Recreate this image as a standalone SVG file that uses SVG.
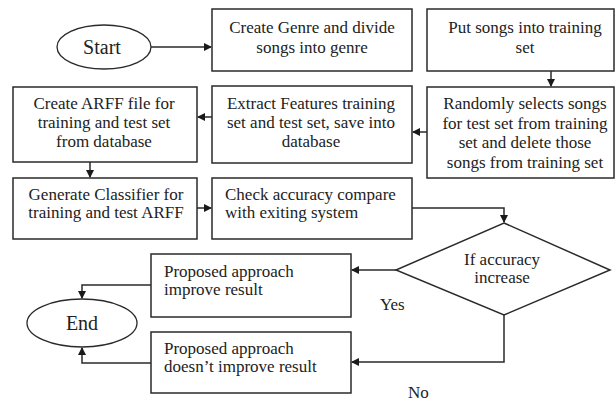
<svg xmlns="http://www.w3.org/2000/svg" width="616" height="403" viewBox="0 0 616 403">
  <style>
    .box { fill: #ffffff; stroke: #2a2a2a; stroke-width: 1.5; }
    .term { fill: #ffffff; stroke: #2a2a2a; stroke-width: 1.3; }
    .lbl { font-family: "Liberation Serif", "Times New Roman", serif; font-size: 17px; fill: #222222; }
    .mid { text-anchor: middle; }
    .big { font-size: 20px; }
    .wire { fill: none; stroke: #2a2a2a; stroke-width: 1.5; }
  </style>
  <defs>
    <marker id="arrow" markerWidth="8" markerHeight="8" refX="7" refY="4" orient="auto" markerUnits="userSpaceOnUse">
      <path d="M0,0 L8,4 L0,8 Z" fill="#1a1a1a"/>
    </marker>
  </defs>
  <rect width="616" height="403" fill="#ffffff"/>

  <!-- connectors -->
  <g id="connectors">
    <line class="wire" x1="151" y1="47" x2="211" y2="47" marker-end="url(#arrow)"/>
    <line class="wire" x1="551" y1="71" x2="551" y2="86" marker-end="url(#arrow)"/>
    <line class="wire" x1="427" y1="132" x2="413" y2="132" marker-end="url(#arrow)"/>
    <line class="wire" x1="212" y1="117" x2="198" y2="117" marker-end="url(#arrow)"/>
    <line class="wire" x1="90" y1="162" x2="90" y2="177" marker-end="url(#arrow)"/>
    <line class="wire" x1="197" y1="208" x2="211" y2="208" marker-end="url(#arrow)"/>
    <polyline class="wire" points="412,208 504,208 504,222" marker-end="url(#arrow)"/>
    <line class="wire" x1="396" y1="270" x2="352" y2="270" marker-end="url(#arrow)"/>
    <polyline class="wire" points="504,315 504,362 352,362" marker-end="url(#arrow)"/>
    <polyline class="wire" points="151,285 82,285 82,298" marker-end="url(#arrow)"/>
    <polyline class="wire" points="151,363 82,363 82,348" marker-end="url(#arrow)"/>
  </g>

  <g id="start">
    <ellipse class="term" cx="104" cy="47" rx="47" ry="22"/>
    <text class="lbl big mid" x="102" y="54">Start</text>
  </g>

  <g id="create-genre">
    <rect class="box" x="212" y="9" width="200" height="62"/>
    <text class="lbl mid" x="312" y="33">Create Genre and divide</text>
    <text class="lbl mid" x="312" y="53">songs into genre</text>
  </g>

  <g id="put-songs">
    <rect class="box" x="427" y="9" width="187" height="62"/>
    <text class="lbl mid" x="525" y="33">Put songs into training</text>
    <text class="lbl mid" x="525" y="53">set</text>
  </g>

  <g id="random-select">
    <rect class="box" x="427" y="87" width="187" height="91"/>
    <text class="lbl mid" x="525" y="109">Randomly selects songs</text>
    <text class="lbl mid" x="525" y="129">for test set from training</text>
    <text class="lbl mid" x="525" y="148">set and delete those</text>
    <text class="lbl mid" x="525" y="168">songs from training set</text>
  </g>

  <g id="extract-features">
    <rect class="box" x="212" y="86" width="200" height="77"/>
    <text class="lbl mid" x="311" y="109">Extract Features training</text>
    <text class="lbl mid" x="311" y="128">set and test set, save into</text>
    <text class="lbl mid" x="311" y="147">database</text>
  </g>

  <g id="create-arff">
    <rect class="box" x="13" y="87" width="184" height="75"/>
    <text class="lbl mid" x="104" y="109">Create ARFF file for</text>
    <text class="lbl mid" x="104" y="128">training and test set</text>
    <text class="lbl mid" x="104" y="147">from database</text>
  </g>

  <g id="generate-classifier">
    <rect class="box" x="13" y="178" width="184" height="61"/>
    <text class="lbl mid" x="106" y="200">Generate Classifier for</text>
    <text class="lbl mid" x="106" y="218">training and test ARFF</text>
  </g>

  <g id="check-accuracy">
    <rect class="box" x="212" y="178" width="200" height="61"/>
    <text class="lbl" x="225" y="200">Check accuracy compare</text>
    <text class="lbl" x="225" y="218">with exiting system</text>
  </g>

  <g id="decision">
    <polygon class="box" points="504,223 610,270 504,315 396,270"/>
    <text class="lbl mid" x="502" y="265">If accuracy</text>
    <text class="lbl mid" x="502" y="283">increase</text>
  </g>

  <g id="improve">
    <rect class="box" x="151" y="254" width="200" height="63"/>
    <text class="lbl" x="164" y="277">Proposed approach</text>
    <text class="lbl" x="164" y="295">improve result</text>
  </g>

  <g id="no-improve">
    <rect class="box" x="151" y="332" width="200" height="61"/>
    <text class="lbl" x="164" y="354">Proposed approach</text>
    <text class="lbl" x="164" y="372">doesn’t improve result</text>
  </g>

  <g id="end">
    <ellipse class="term" cx="82" cy="323" rx="55" ry="24"/>
    <text class="lbl big mid" x="82" y="330">End</text>
  </g>

  <text class="lbl" x="380" y="310" font-size="19">Yes</text>
  <text class="lbl" x="408" y="398" font-size="19">No</text>
</svg>
